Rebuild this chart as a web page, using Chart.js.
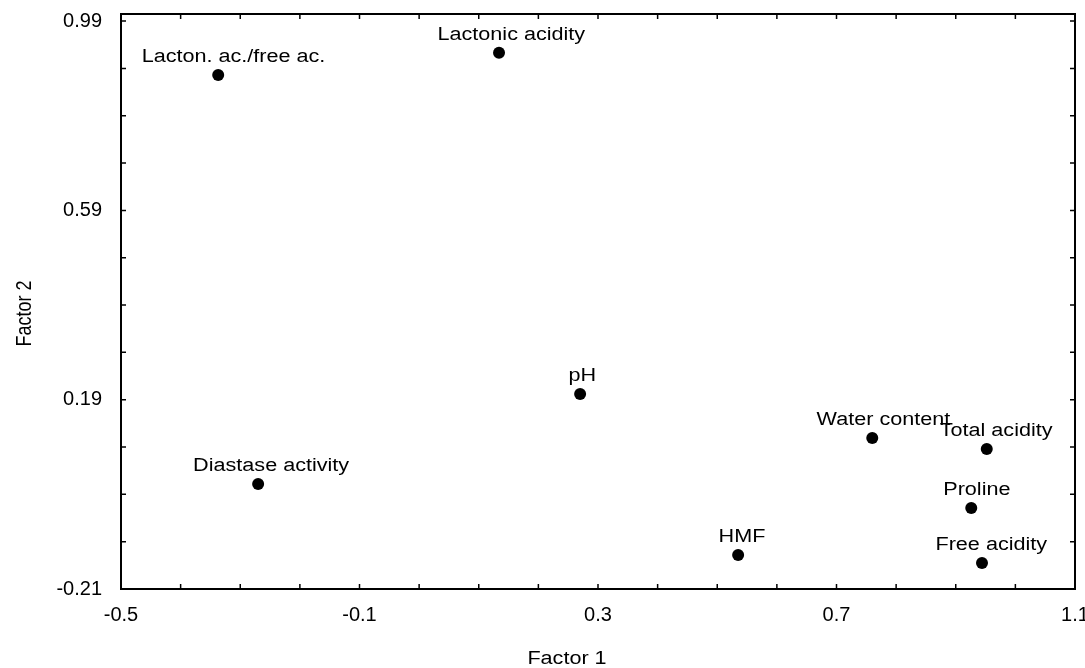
<!DOCTYPE html>
<html>
<head>
<meta charset="utf-8">
<script src="https://cdn.jsdelivr.net/npm/chart.js@4.4.1/dist/chart.umd.min.js"></script>
<style>
  html, body { margin: 0; padding: 0; background: #fff; }
  #wrap { width: 1085px; height: 668px; }
</style>
</head>
<body>
<div id="wrap"><canvas id="chart"></canvas></div>
<script>
// Factor loadings
const variables = ['Lacton. ac./free ac.', 'Lactonic acidity', 'pH', 'Water content', 'Total acidity',
                   'Diastase activity', 'Proline', 'HMF', 'Free acidity'];
const factor1 = [-0.337, 0.134, 0.270, 0.760, 0.952, -0.270, 0.926, 0.535, 0.944];
const factor2 = [0.876, 0.923, 0.202, 0.109, 0.086, 0.012, -0.039, -0.138, -0.155];

// Tick marks every 0.1, a label on every 4th one
const xTicks = [-0.5, -0.4, -0.3, -0.2, -0.1, 0, 0.1, 0.2, 0.3, 0.4, 0.5, 0.6, 0.7, 0.8, 0.9, 1.0, 1.1];
const yTicks = [-0.21, -0.11, -0.01, 0.09, 0.19, 0.29, 0.39, 0.49, 0.59, 0.69, 0.79, 0.89, 0.99];
const xTickLabels = ['-0.5', '-0.1', '0.3', '0.7', '1.1'];
const yTickLabels = ['-0.21', '0.19', '0.59', '0.99'];

const FONT = '"Liberation Sans", Arial, sans-serif';
const STRETCH = 1.2; // text in the original is a bit wide

// frame, inward ticks on all four sides, point labels and axis titles
const framePlugin = {
    id: 'frame',
    afterDatasetsDraw(chart) {
        const ctx = chart.ctx;
        const a = chart.chartArea;
        const xs = chart.scales.x, ys = chart.scales.y;
        ctx.save();
        ctx.strokeStyle = '#000';
        ctx.lineWidth = 2;
        ctx.strokeRect(a.left, a.top, a.right - a.left, a.bottom - a.top);

        ctx.lineWidth = 1.5;
        ctx.beginPath();
        xTicks.forEach(v => {
            const px = xs.getPixelForValue(v);
            ctx.moveTo(px, a.bottom); ctx.lineTo(px, a.bottom - 5);
            ctx.moveTo(px, a.top); ctx.lineTo(px, a.top + 5);
        });
        yTicks.forEach(v => {
            const py = ys.getPixelForValue(v);
            ctx.moveTo(a.left, py); ctx.lineTo(a.left + 5, py);
            ctx.moveTo(a.right, py); ctx.lineTo(a.right - 5, py);
        });
        ctx.stroke();

        // point labels
        ctx.fillStyle = '#000';
        ctx.font = '18px ' + FONT;
        ctx.textAlign = 'left';
        ctx.textBaseline = 'alphabetic';
        const meta = chart.getDatasetMeta(0);
        meta.data.forEach((pt, i) => {
            const w = ctx.measureText(variables[i]).width;
            ctx.save();
            ctx.translate(pt.x - w / 2, pt.y - 13);
            ctx.scale(STRETCH, 1);
            ctx.fillText(variables[i], 0, 0);
            ctx.restore();
        });

        // axis titles
        ctx.font = '18px ' + FONT;
        const t1 = 'Factor 1';
        const w1 = ctx.measureText(t1).width * STRETCH;
        ctx.save();
        ctx.translate((a.left + a.right) / 2 - 31 - w1 / 2, chart.height - 4);
        ctx.scale(STRETCH, 1);
        ctx.fillText(t1, 0, 0);
        ctx.restore();

        const t2 = 'Factor 2';
        const w2 = ctx.measureText(t2).width;
        ctx.save();
        ctx.translate(31, (a.top + a.bottom) / 2 + 12);
        ctx.rotate(-Math.PI / 2);
        ctx.scale(1, STRETCH);
        ctx.fillText(t2, -w2 / 2, 0);
        ctx.restore();
        ctx.restore();
    }
};

new Chart(document.getElementById('chart'), {
    type: 'scatter',
    data: {
        datasets: [{
            data: factor1.map((x, i) => ({ x: x, y: factor2[i] })),
            backgroundColor: '#000',
            borderWidth: 0,
            pointRadius: 6,
            pointHoverRadius: 6
        }]
    },
    options: {
        responsive: true,
        maintainAspectRatio: false,
        animation: false,
        layout: { padding: { top: 14, right: 10, left: 0, bottom: 0 } },
        plugins: {
            legend: { display: false },
            tooltip: { enabled: false }
        },
        scales: {
            x: {
                type: 'linear',
                min: -0.5,
                max: 1.1,
                afterBuildTicks: s => { s.ticks = xTicks.map(v => ({ value: v })); },
                afterFit: s => { s.height = 79; s.paddingLeft = 0; s.paddingRight = 0; },
                grid: { display: false, drawTicks: false },
                border: { display: false },
                ticks: {
                    autoSkip: false,
                    maxRotation: 0,
                    padding: 14,
                    color: '#000',
                    font: { family: FONT, size: 20 },
                    callback: (v, i) => i % 4 === 0 ? xTickLabels[i / 4] : ''
                }
            },
            y: {
                type: 'linear',
                min: -0.21,
                max: 1.005,
                afterBuildTicks: s => { s.ticks = yTicks.map(v => ({ value: v })); },
                afterFit: s => { s.width = 121; s.paddingTop = 0; s.paddingBottom = 0; },
                grid: { display: false, drawTicks: false },
                border: { display: false },
                ticks: {
                    autoSkip: false,
                    padding: 19,
                    color: '#000',
                    font: { family: FONT, size: 20 },
                    callback: (v, i) => i % 4 === 0 ? yTickLabels[i / 4] : ''
                }
            }
        }
    },
    plugins: [framePlugin]
});
</script>
</body>
</html>
